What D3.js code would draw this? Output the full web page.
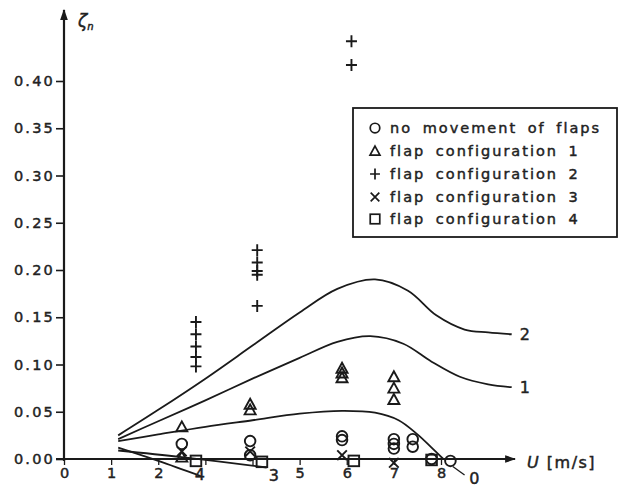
<!DOCTYPE html>
<html><head><meta charset="utf-8">
<script src="https://cdn.jsdelivr.net/npm/d3@7"></script>
<style>
html,body{margin:0;padding:0;background:#fff;}
svg{display:block;}
text{font-family:"DejaVu Sans",sans-serif;fill:#222;stroke:#222;stroke-width:0.45px;}
</style></head>
<body>
<svg id="c" width="623" height="488"></svg>
<script>
// ---- data ----
const xTicks = [0, 1, 2, 3, 4, 5, 6, 7, 8];
const xTickLabels = ["0", "1", "2", "", "", "5", "6", "7", "8"];
const yTicks = [0, 0.05, 0.10, 0.15, 0.20, 0.25, 0.30, 0.35, 0.40];
const yTickLabels = ["0.00", "0.05", "0.10", "0.15", "0.20", "0.25", "0.30", "0.35", "0.40"];

const legendLabels = ["no movement of flaps", "flap configuration 1", "flap configuration 2", "flap configuration 3", "flap configuration 4"];

// measured points
const noMoveU = [2.5, 3.95, 3.95, 5.9, 5.9, 7.0, 7.0, 7.0, 7.4, 7.4, 7.8, 8.2];
const noMoveZ = [0.016, 0.019, 0.004, 0.024, 0.020, 0.021, 0.016, 0.011, 0.021, 0.013, 0.000, -0.002];
const conf1U = [2.5, 2.5, 3.95, 3.95, 5.9, 5.9, 5.9, 7.0, 7.0, 7.0];
const conf1Z = [0.034, 0.002, 0.058, 0.052, 0.096, 0.091, 0.086, 0.087, 0.075, 0.063];
const conf2U = [2.8, 2.8, 2.8, 2.8, 2.8, 4.1, 4.1, 4.1, 4.1, 4.1, 6.1, 6.1];
const conf2Z = [0.145, 0.132, 0.119, 0.108, 0.098, 0.221, 0.208, 0.199, 0.195, 0.162, 0.442, 0.417];
const conf3U = [2.5, 3.95, 5.9, 7.0];
const conf3Z = [0.008, 0.008, 0.004, -0.004];
const conf4U = [2.8, 4.2, 6.15, 7.8];
const conf4Z = [-0.002, -0.003, -0.002, -0.001];

// fitted curves (labelled 0..4)
const curveNames = ["2", "1", "0", "4", "3"];
const curve2U = [1.15, 2, 3, 4, 5, 5.8, 6.6, 7.3, 7.9, 8.5, 9.0, 9.5];
const curve2Z = [0.025, 0.052, 0.085, 0.12, 0.155, 0.18, 0.19, 0.178, 0.152, 0.137, 0.134, 0.132];
const curve1U = [1.15, 2, 3, 4, 5, 5.8, 6.5, 7.2, 7.8, 8.4, 9.0, 9.5];
const curve1Z = [0.021, 0.040, 0.062, 0.085, 0.107, 0.124, 0.130, 0.122, 0.103, 0.087, 0.079, 0.076];
const curve0U = [1.15, 2, 3, 4, 5, 5.9, 6.6, 7.1, 7.5, 7.8, 8.05];
const curve0Z = [0.019, 0.026, 0.034, 0.041, 0.048, 0.051, 0.049, 0.041, 0.026, 0.012, 0.0];
const curve4U = [1.15, 2.0, 2.9];
const curve4Z = [0.012, -0.002, -0.018];
const curve3U = [1.15, 2.5, 4.3];
const curve3Z = [0.009, 0.002, -0.009];

// ---- drawing ----
const svg = d3.select("#c");
const x = d3.scaleLinear().domain([0, 8]).range([64, 441]);
const y = d3.scaleLinear().domain([0, 0.4]).range([459, 81]);
const ink = "#1a1a1a";

// axes
const yAxis = d3.axisLeft(y).tickValues(yTicks).tickFormat((d, i) => yTickLabels[i]).tickSize(8).tickPadding(1);
const gy = svg.append("g").attr("transform", `translate(${x(0)},0)`).call(yAxis);
gy.select(".domain").remove();
gy.selectAll("line").attr("stroke", ink).attr("stroke-width", 1.6);
gy.selectAll("text").attr("font-size", 14.5).attr("letter-spacing", 2.2).attr("fill", ink);

const xAxis = d3.axisBottom(x).tickValues(xTicks).tickFormat((d, i) => xTickLabels[i]).tickSize(6).tickPadding(3);
const gx = svg.append("g").attr("transform", `translate(0,${y(0)})`).call(xAxis);
gx.select(".domain").remove();
gx.selectAll("line").attr("stroke", ink).attr("stroke-width", 1.3);
gx.selectAll("text").attr("font-size", 14.5).attr("fill", ink);

// axis lines with arrows
svg.append("defs").append("marker").attr("id", "arr").attr("viewBox", "0 0 10 10")
  .attr("refX", 9).attr("refY", 5).attr("markerWidth", 5).attr("markerHeight", 5)
  .attr("orient", "auto").append("path").attr("d", "M0,1.5 L10,5 L0,8.5 Z").attr("fill", ink);
svg.append("line").attr("x1", x(0)).attr("x2", x(0)).attr("y1", y(0) + 2).attr("y2", 10)
  .attr("stroke", ink).attr("stroke-width", 2.2).attr("marker-end", "url(#arr)");
svg.append("line").attr("x1", x(0) - 8).attr("x2", 515).attr("y1", y(0)).attr("y2", y(0))
  .attr("stroke", ink).attr("stroke-width", 2.2).attr("marker-end", "url(#arr)");

svg.append("text").attr("x", 78).attr("y", 27).attr("font-size", 17).attr("font-style", "italic").text("ζ")
  .append("tspan").attr("font-size", 10).attr("dy", 3).text("n");
svg.append("text").attr("x", 527).attr("y", 468).attr("font-size", 16).attr("letter-spacing", 1.5).attr("fill", ink)
  .html('<tspan font-style="italic">U</tspan>  [m/s]');

// curves
const line = d3.line().x(d => x(d[0])).y(d => y(d[1])).curve(d3.curveCatmullRom.alpha(0.5));
const curves = [[curve2U, curve2Z], [curve1U, curve1Z], [curve0U, curve0Z], [curve4U, curve4Z], [curve3U, curve3Z]];
curves.forEach(([u, z]) => {
  svg.append("path").attr("d", line(u.map((v, i) => [v, z[i]])))
    .attr("fill", "none").attr("stroke", ink).attr("stroke-width", 1.8);
});
// curve labels
svg.append("text").attr("x", x(curve2U[curve2U.length - 1]) + 8).attr("y", y(curve2Z[curve2Z.length - 1]) + 6).attr("font-size", 16).text(curveNames[0]);
svg.append("text").attr("x", x(curve1U[curve1U.length - 1]) + 8).attr("y", y(curve1Z[curve1Z.length - 1]) + 6).attr("font-size", 16).text(curveNames[1]);
svg.append("line").attr("x1", x(8.25)).attr("y1", y(-0.008)).attr("x2", x(8.5)).attr("y2", y(-0.017)).attr("stroke", ink).attr("stroke-width", 1.3);
svg.append("text").attr("x", x(8.6)).attr("y", y(-0.026)).attr("font-size", 16).text(curveNames[2]);
svg.append("text").attr("x", x(curve4U[curve4U.length - 1]) - 6).attr("y", y(curve4Z[curve4Z.length - 1]) + 4).attr("font-size", 16).text(curveNames[3]);
svg.append("text").attr("x", x(curve3U[curve3U.length - 1]) + 2).attr("y", y(curve3Z[curve3Z.length - 1]) + 13).attr("font-size", 16).text(curveNames[4]);

// markers
const sym = {
  circle: (g) => g.append("circle").attr("r", 5.3),
  triangle: (g) => g.append("path").attr("d", "M0,-5.5 L5.5,4.5 L-5.5,4.5 Z"),
  plus: (g) => g.append("path").attr("d", "M-5.5,0 H5.5 M0,-6 V6"),
  cross: (g) => g.append("path").attr("d", "M-4.8,-4.8 L4.8,4.8 M-4.8,4.8 L4.8,-4.8"),
  square: (g) => g.append("rect").attr("x", -5.3).attr("y", -5.3).attr("width", 10.6).attr("height", 10.6)
};
const series = [[noMoveU, noMoveZ, "circle"], [conf1U, conf1Z, "triangle"], [conf2U, conf2Z, "plus"], [conf3U, conf3Z, "cross"], [conf4U, conf4Z, "square"]];
series.forEach(([u, z, s]) => {
  u.forEach((v, i) => {
    const g = svg.append("g").attr("transform", `translate(${x(v)},${y(z[i])})`)
      .attr("fill", "none").attr("stroke", ink).attr("stroke-width", 1.9);
    sym[s](g);
  });
});

// legend
const lg = svg.append("g");
lg.append("rect").attr("x", 353).attr("y", 108).attr("width", 264).attr("height", 129)
  .attr("fill", "#fff").attr("stroke", ink).attr("stroke-width", 1.8);
const rowY = [128, 151, 174, 197, 219];
series.forEach(([, , s], i) => {
  const g = lg.append("g").attr("transform", `translate(375,${rowY[i]}) scale(0.9)`)
    .attr("fill", "none").attr("stroke", ink).attr("stroke-width", 1.9);
  sym[s](g);
  lg.append("text").attr("x", 390).attr("y", rowY[i] + 5).attr("font-size", 14.5)
    .attr("letter-spacing", 2.0).attr("word-spacing", 4).attr("fill", ink).text(legendLabels[i]);
});
</script>
</body></html>
